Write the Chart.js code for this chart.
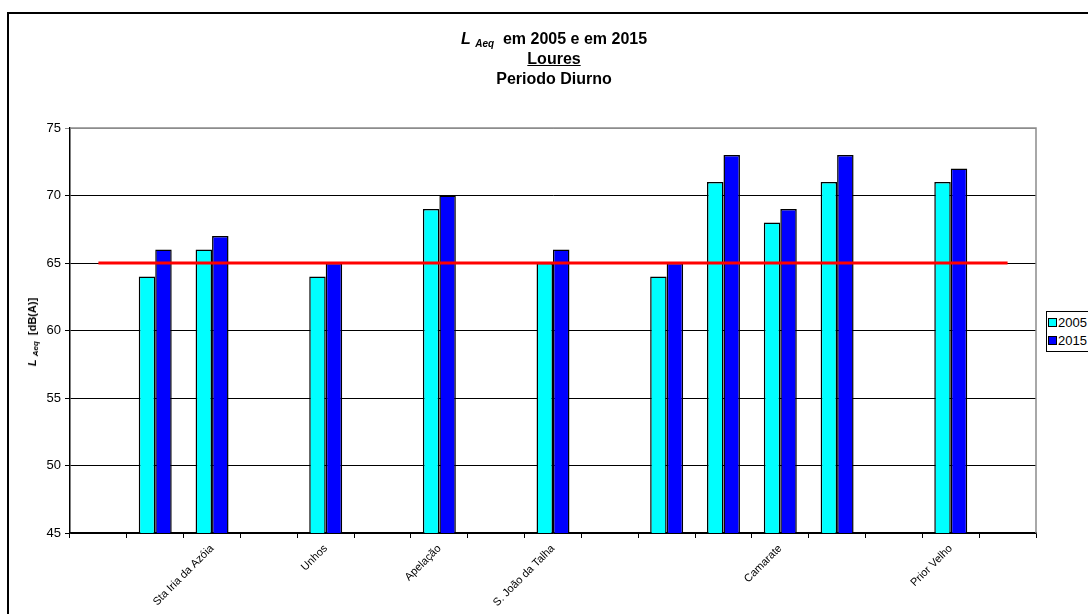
<!DOCTYPE html>
<html>
<head>
<meta charset="utf-8">
<script src="https://cdn.jsdelivr.net/npm/chart.js@4.4.0/dist/chart.umd.min.js"></script>
<style>
  body { margin: 0; width: 1088px; height: 614px; overflow: hidden; background: #fff; font-family: Arial, "Liberation Sans", sans-serif; }
  #frame { position: absolute; left: 7px; top: 12px; width: 1200px; height: 800px; border: 2px solid #000; }
  #wrap { position: absolute; left: 0; top: 0; width: 1088px; height: 614px; }
  .title { position: absolute; left: 354px; width: 400px; text-align: center; font-weight: bold; font-size: 16px; line-height: 20px; color: #000; white-space: nowrap; }
  .title i { font-style: italic; }
  .sub { font-size: 10px; font-style: italic; position: relative; top: 3px; }
  #ylabel { position: absolute; left: 32px; top: 332px; transform: translate(-50%, -50%) rotate(-90deg); font-weight: bold; font-size: 11px; white-space: nowrap; color: #000; }
  #ylabel .sub { font-size: 8px; top: 2px; }
  #legend { position: absolute; left: 1046px; top: 311px; width: 80px; height: 39px; border: 1px solid #000; background: #fff; font-size: 13px; }
  #legend div { position: absolute; left: 1px; height: 15px; line-height: 15px; white-space: nowrap; }
  #legend span.sw { display: inline-block; width: 7px; height: 7px; border: 1px solid #000; margin-right: 1px; vertical-align: 0px; }
</style>
</head>
<body>
<div id="frame"></div>
<div id="wrap"><canvas id="chart" width="1088" height="614"></canvas></div>
<div class="title" style="top:29px"><i>L</i> <span class="sub">Aeq</span>&nbsp; em 2005 e em 2015</div>
<div class="title" style="top:49px"><u>Loures</u></div>
<div class="title" style="top:69px">Periodo Diurno</div>
<div id="ylabel"><i>L</i> <span class="sub">Aeq</span>&nbsp; [dB(A)]</div>
<div id="legend">
  <div style="top:3px"><span class="sw" style="background:#00FFFF"></span>2005</div>
  <div style="top:21px"><span class="sw" style="background:#0000FF"></span>2015</div>
</div>
<script>
const categories = ['', '', 'Sta Iria da Azóia', '', 'Unhos', '', 'Apelação', '', 'S. João da Talha', '', '', '', 'Camarate', '', '', 'Prior Velho', ''];
const lAeq2005 = [null, 64, 66, null, 64, null, 69, null, 65, null, 64, 71, 68, 71, null, 71, null];
const lAeq2015 = [null, 66, 67, null, 65, null, 70, null, 66, null, 65, 73, 69, 73, null, 72, null];
const limite = [65, 65, 65, 65, 65, 65, 65, 65, 65, 65, 65, 65, 65, 65, 65, 65, 65];
const yTicks = [45, 50, 55, 60, 65, 70, 75];

// grey frame on the top and right of the plot area
const plotFrame = {
    id: 'plotFrame',
    beforeDatasetsDraw(chart) {
        const { ctx, chartArea: a } = chart;
        ctx.save();
        ctx.strokeStyle = '#8c8c8c';
        ctx.lineWidth = 1.5;
        ctx.beginPath();
        ctx.moveTo(a.left, a.top);
        ctx.lineTo(a.right, a.top);
        ctx.lineTo(a.right, a.bottom);
        ctx.stroke();
        ctx.restore();
    }
};

const ctx = document.getElementById('chart').getContext('2d');
const chart = new Chart(ctx, {
    type: 'bar',
    data: {
        labels: categories,
        datasets: [
            {
                type: 'line',
                label: 'limite',
                data: limite,
                borderColor: '#FF0000',
                borderWidth: 3,
                pointRadius: 0,
                fill: false,
                order: 0
            },
            {
                label: '2005',
                data: lAeq2005,
                backgroundColor: '#00FFFF',
                borderColor: '#000',
                borderWidth: 1.5,
                categoryPercentage: 0.58,
                barPercentage: 1.0,
                order: 1
            },
            {
                label: '2015',
                data: lAeq2015,
                backgroundColor: '#0000FF',
                borderColor: '#000',
                borderWidth: 1.5,
                categoryPercentage: 0.58,
                barPercentage: 1.0,
                order: 1
            }
        ]
    },
    plugins: [plotFrame],
    options: {
        responsive: false,
        animation: false,
        layout: { padding: { left: 0, right: 52, top: 128, bottom: 0 } },
        plugins: {
            legend: { display: false },
            tooltip: { enabled: false }
        },
        scales: {
            x: {
                offset: true,
                grid: { offset: true, drawOnChartArea: false, color: '#000', tickLength: 5 },
                border: { color: '#000', width: 1.5 },
                ticks: {
                    autoSkip: false,
                    maxRotation: 45,
                    minRotation: 45,
                    padding: 4,
                    color: '#000',
                    font: { family: 'Arial, "Liberation Sans", sans-serif', size: 11 }
                },
                afterFit(scale) { scale.height = 81; }
            },
            y: {
                min: 45,
                max: 75,
                afterBuildTicks(scale) { scale.ticks = yTicks.map(v => ({ value: v })); },
                grid: {
                    color: c => c.tick && c.tick.value === 75 ? '#8c8c8c' : '#000',
                    lineWidth: 1,
                    tickLength: 5
                },
                border: { color: '#000', width: 1.5 },
                ticks: {
                    padding: 4,
                    color: '#000',
                    font: { family: 'Arial, "Liberation Sans", sans-serif', size: 13 }
                },
                afterFit(scale) { scale.width = 70; }
            }
        }
    }
});
</script>
</body>
</html>
